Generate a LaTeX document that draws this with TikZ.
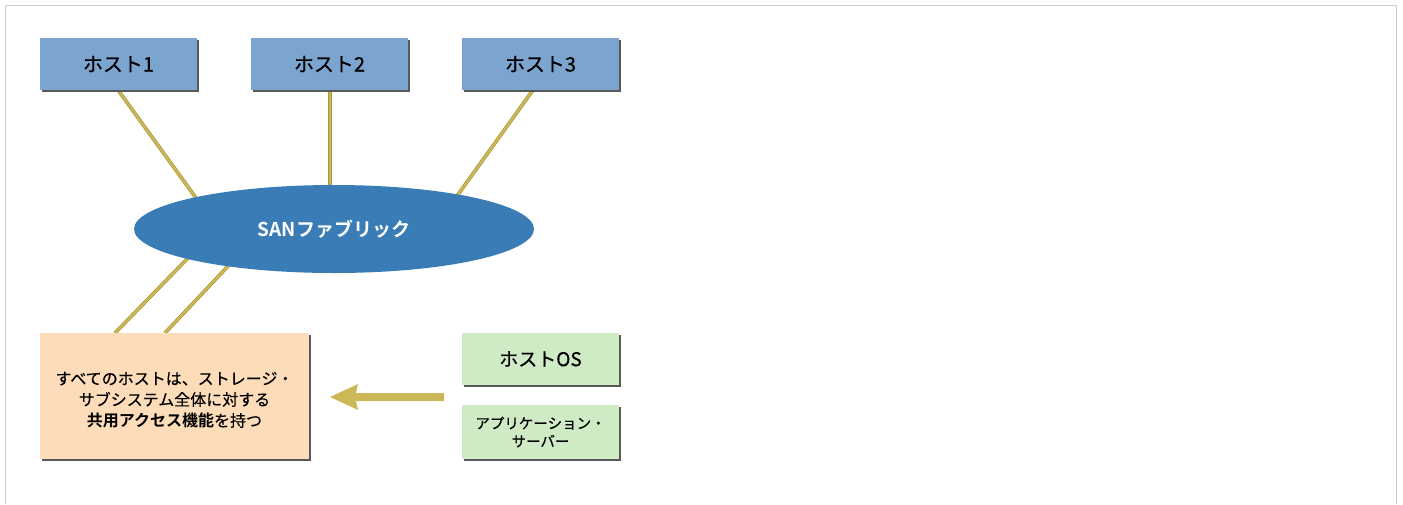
\documentclass[tikz,border=0pt]{standalone}
\usepackage{fontspec}
\setmainfont{Liberation Sans}
\newfontfamily\jp{Noto Sans CJK JP}[FakeBold=0.45]
\newfontfamily\jpb{Noto Sans CJK JP Bold}
\usetikzlibrary{shapes.geometric,arrows.meta}
\definecolor{hostblue}{HTML}{7BA4CF}
\definecolor{sanblue}{HTML}{3A7CB6}
\definecolor{peach}{HTML}{FDDDB9}
\definecolor{mint}{HTML}{CFEBC6}
\definecolor{gold}{HTML}{CDB858}
\definecolor{golddark}{HTML}{A8963C}
\definecolor{frame}{HTML}{CCCCCC}
\begin{document}
\begin{tikzpicture}[x=1pt,y=-1pt,
  hostbox/.style={fill=hostblue,minimum width=157pt,minimum height=52pt,inner sep=0pt,font=\jp\fontsize{20}{24}\selectfont},
  greenbox/.style={fill=mint,minimum width=157pt,inner sep=0pt,align=center},
  link/.style={draw=golddark,line width=3.6pt},
  linkin/.style={draw=gold,line width=2.2pt}]
\useasboundingbox (0,0) rectangle (1403,504);
\draw[frame,line width=1pt] (5.5,504) -- (5.5,5.5) -- (1396.5,5.5) -- (1396.5,504);
% connectors (behind)
\coordinate (h1b) at (118,90); \coordinate (e1) at (196,198);
\coordinate (h2b) at (330,90); \coordinate (e2) at (330,186);
\coordinate (h3b) at (533,90); \coordinate (e3) at (457,196);
\coordinate (e4) at (188,258); \coordinate (s1) at (115,333);
\coordinate (e5) at (230,264); \coordinate (s2) at (165,333);
\foreach \a/\b in {h1b/e1,h2b/e2,h3b/e3,e4/s1,e5/s2}{
  \draw[link] (\a) -- (\b);
  \draw[linkin] (\a) -- (\b);
}
% shadows
\foreach \xa/\ya/\xb/\yb in {40/38/197/90,251/38/408/90,462/38/619/90,40/333/309/459,462/333/619/385,462/405/619/459}{
  \fill[black!65] (\xa+2,\ya+2) rectangle (\xb+2,\yb+2);
}
% hosts
\node[hostbox] (h1) at (118.5,64) {ホスト1};
\node[hostbox] (h2) at (329.5,64) {ホスト2};
\node[hostbox] (h3) at (540.5,64) {ホスト3};
% SAN ellipse
\node[ellipse,fill=sanblue,minimum width=400pt,minimum height=88pt,inner sep=0pt,text=white,font=\jpb\fontsize{19}{22}\selectfont] (san) at (334,229) {SANファブリック};
% storage box
\fill[peach] (40,333) rectangle (309,459);
\node[inner sep=0pt,align=center,font=\jp\fontsize{16}{21}\selectfont] (st) at (174.5,400) {すべてのホストは、ストレージ・\\サブシステム全体に対する\\{\jpb 共用アクセス機能}を持つ};
% green boxes
\node[greenbox,minimum height=52pt,font=\jp\fontsize{19}{22}\selectfont] (os) at (540.5,359) {ホストOS};
\node[greenbox,minimum height=54pt,font=\jp\fontsize{14.5}{18}\selectfont] (app) at (540.5,432) {アプリケーション・\\サーバー};
% arrow
\fill[gold] (444,393) -- (356,393) -- (358,384) -- (330,397) -- (358,410) -- (356,401) -- (444,401) -- cycle;
\end{tikzpicture}
\end{document}
